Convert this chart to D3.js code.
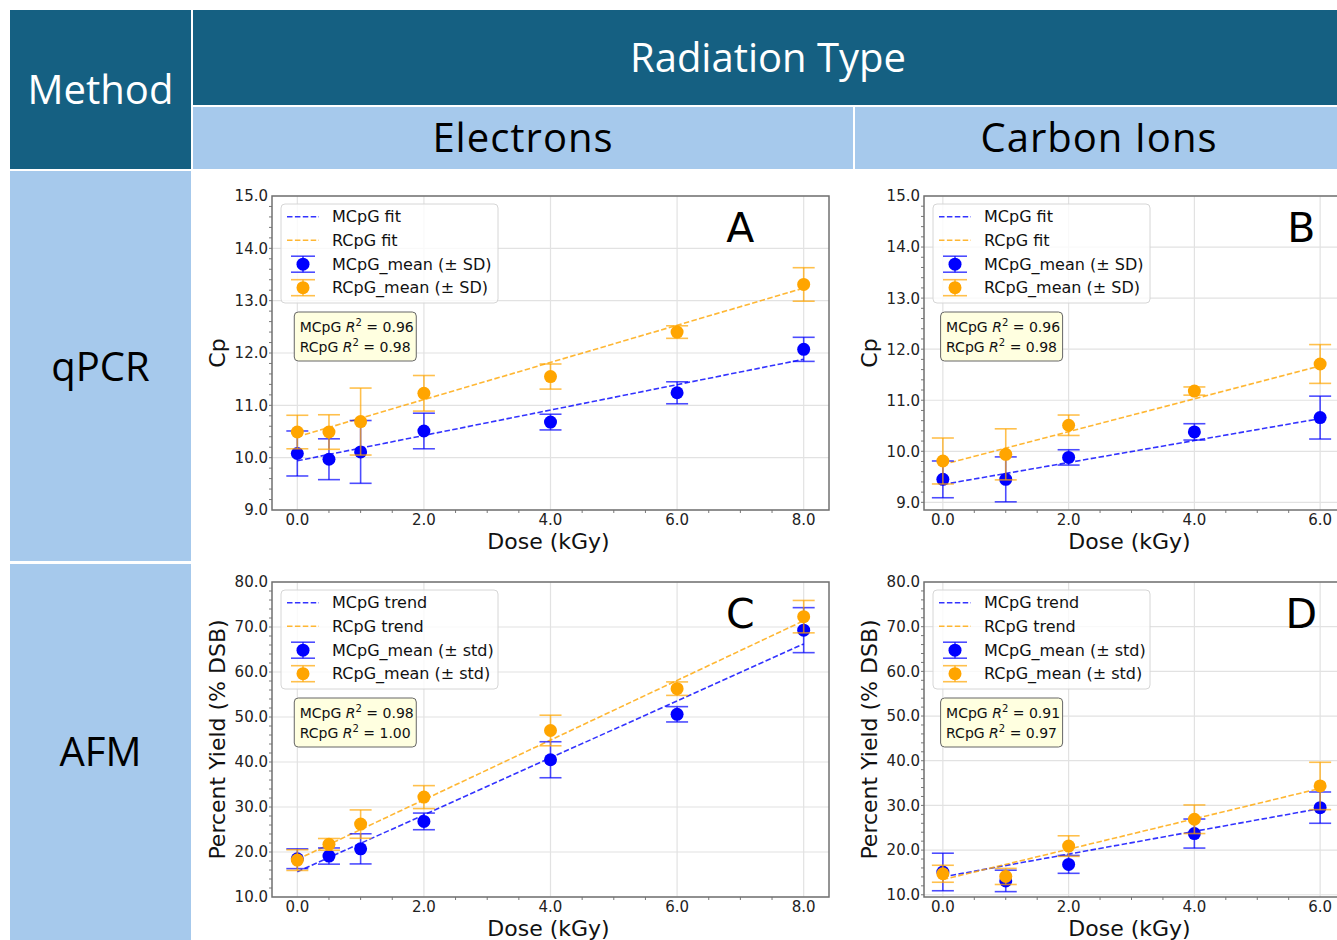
<!DOCTYPE html>
<html lang="en">
<head>
  <meta charset="UTF-8">
  <title>Radiation Type vs Method</title>
  <script src="https://d3js.org/d3.v7.min.js"></script>
  <style>
    body { margin: 0; background: #fff; }
    svg text { font-family: "DejaVu Sans", sans-serif; }
    .hdr { font-family: "Open Sans", sans-serif !important; font-size: 40px; }
  </style>
</head>
<body>
  <div id="chart"></div>
  <script>
    // dose levels (kGy)
    const electronDose = [0, 0.5, 1, 2, 4, 6, 8];
    const carbonDose = [0, 1, 2, 4, 6];

    // qPCR Cp, mean and SD
    const cpElecM = [10.08, 9.97, 10.11, 10.51, 10.68, 11.24, 12.07];
    const cpElecMsd = [0.43, 0.39, 0.60, 0.34, 0.15, 0.21, 0.23];
    const cpElecR = [10.49, 10.49, 10.69, 11.23, 11.55, 12.40, 13.31];
    const cpElecRsd = [0.32, 0.33, 0.64, 0.34, 0.24, 0.12, 0.32];
    const cpCarbM = [9.45, 9.45, 9.88, 10.38, 10.66];
    const cpCarbMsd = [0.36, 0.44, 0.15, 0.16, 0.42];
    const cpCarbR = [9.81, 9.94, 10.51, 11.18, 11.71];
    const cpCarbRsd = [0.45, 0.50, 0.20, 0.08, 0.38];

    // AFM percent yield, mean and std
    const afmElecM = [18.5, 19.1, 20.7, 26.8, 40.5, 50.6, 69.3];
    const afmElecMsd = [2.2, 1.8, 3.35, 1.85, 4.0, 1.7, 5.0];
    const afmElecR = [18.2, 21.7, 26.2, 32.2, 47.0, 56.3, 72.3];
    const afmElecRsd = [2.3, 1.3, 3.15, 2.55, 3.4, 1.5, 3.6];
    const afmCarbM = [15.1, 13.1, 16.8, 23.7, 29.5];
    const afmCarbMsd = [4.2, 2.4, 2.0, 3.25, 3.5];
    const afmCarbR = [14.7, 14.1, 20.9, 26.9, 34.35];
    const afmCarbRsd = [1.9, 1.8, 2.3, 3.2, 5.3];

    // linear fits [intercept, slope] for MCpG and RCpG
    const cpElecFit = [[9.94, 0.2425], [10.40, 0.355]];
    const cpCarbFit = [[9.35, 0.215], [9.74, 0.322]];
    const afmElecFit = [[15.6, 6.33], [18.35, 6.63]];
    const afmCarbFit = [[14.0, 2.55], [13.4, 3.4]];

    const r2Labels = [["0.96", "0.98"], ["0.96", "0.98"], ["0.98", "1.00"], ["0.91", "0.97"]];
    const elecTicks = [0, 2, 4, 6, 8];
    const carbTicks = [0, 2, 4, 6];
    const cpTicks = [9, 10, 11, 12, 13, 14, 15];
    const afmTicks = [10, 20, 30, 40, 50, 60, 70, 80];

    const dark = "#156082", light = "#a6c9ec";
    const blue = "#0000ff", orange = "#ffa500";

    const svg = d3.select("#chart").append("svg")
      .attr("width", 1337)
      .attr("height", 940);

    // table header / row cells
    const cells = [
      { x: 10, y: 10, w: 181, h: 159, fill: dark, text: "Method", color: "#fff", ty: 90 },
      { x: 193, y: 10, w: 1144, h: 95, fill: dark, text: "Radiation Type", color: "#fff", ty: 58, tx: 768 },
      { x: 193, y: 107, w: 660, h: 62, fill: light, text: "Electrons", color: "#000", ty: 138, ls: 1 },
      { x: 855, y: 107, w: 482, h: 62, fill: light, text: "Carbon Ions", color: "#000", ty: 138, tx: 1099, ls: 1 },
      { x: 10, y: 171, w: 181, h: 390, fill: light, text: "qPCR", color: "#000", ty: 367 },
      { x: 10, y: 564, w: 181, h: 376, fill: light, text: "AFM", color: "#000", ty: 752 }
    ];
    cells.forEach(c => {
      svg.append("rect").attr("x", c.x).attr("y", c.y)
        .attr("width", c.w).attr("height", c.h).attr("fill", c.fill);
      svg.append("text").attr("class", "hdr")
        .attr("x", c.tx || c.x + c.w / 2).attr("y", c.ty)
        .attr("text-anchor", "middle").attr("dy", "0.35em")
        .attr("letter-spacing", c.ls || 0)
        .attr("fill", c.color).text(c.text);
    });

    const panels = [
      { letter: "A", letterX: 7, left: 272, right: 829, top: 196, bottom: 510, xDom: [-0.4, 8.4], yDom: [9, 15],
        dose: electronDose, m: cpElecM, msd: cpElecMsd, r: cpElecR, rsd: cpElecRsd, fit: cpElecFit,
        xTicks: elecTicks, yTicks: cpTicks, yMinor: 0.2, yLabel: "Cp", fitWord: "fit", sdWord: "SD", r2: r2Labels[0] },
      { letter: "B", letterX: 5.7, left: 924, right: 1339, top: 196, bottom: 510, xDom: [-0.3, 6.3], yDom: [8.85, 15],
        dose: carbonDose, m: cpCarbM, msd: cpCarbMsd, r: cpCarbR, rsd: cpCarbRsd, fit: cpCarbFit,
        xTicks: carbTicks, yTicks: cpTicks, yMinor: 0.2, yLabel: "Cp", fitWord: "fit", sdWord: "SD", r2: r2Labels[1] },
      { letter: "C", letterX: 7, left: 272, right: 829, top: 582, bottom: 897, xDom: [-0.4, 8.4], yDom: [10, 80],
        dose: electronDose, m: afmElecM, msd: afmElecMsd, r: afmElecR, rsd: afmElecRsd, fit: afmElecFit,
        xTicks: elecTicks, yTicks: afmTicks, yMinor: 2, yLabel: "Percent Yield (% DSB)", fitWord: "trend", sdWord: "std", r2: r2Labels[2] },
      { letter: "D", letterX: 5.7, left: 924, right: 1339, top: 582, bottom: 897, xDom: [-0.3, 6.3], yDom: [9.5, 80],
        dose: carbonDose, m: afmCarbM, msd: afmCarbMsd, r: afmCarbR, rsd: afmCarbRsd, fit: afmCarbFit,
        xTicks: carbTicks, yTicks: afmTicks, yMinor: 2, yLabel: "Percent Yield (% DSB)", fitWord: "trend", sdWord: "std", r2: r2Labels[3] }
    ];

    panels.forEach(p => {
      const x = d3.scaleLinear().domain(p.xDom).range([p.left, p.right]);
      const y = d3.scaleLinear().domain(p.yDom).range([p.bottom, p.top]);
      const g = svg.append("g");
      const w = p.right - p.left;

      g.append("rect").attr("x", p.left).attr("y", p.top)
        .attr("width", w).attr("height", p.bottom - p.top).attr("fill", "#fff");

      // grid
      g.selectAll(".gx").data(p.xTicks).enter().append("line")
        .attr("x1", d => x(d)).attr("x2", d => x(d))
        .attr("y1", p.top).attr("y2", p.bottom)
        .attr("stroke", "#e2e2e2").attr("stroke-width", 1.2);
      g.selectAll(".gy").data(p.yTicks).enter().append("line")
        .attr("x1", p.left).attr("x2", p.right)
        .attr("y1", d => y(d)).attr("y2", d => y(d))
        .attr("stroke", "#e2e2e2").attr("stroke-width", 1.2);

      // minor ticks
      const xMin = d3.range(Math.ceil(p.xDom[0] * 2) / 2, p.xDom[1], 0.5).filter(v => v % 2 !== 0);
      g.selectAll(".mx").data(xMin).enter().append("line")
        .attr("x1", d => x(d)).attr("x2", d => x(d))
        .attr("y1", p.bottom).attr("y2", p.bottom + 3)
        .attr("stroke", "#555").attr("stroke-width", 0.8);
      const yMin = d3.range(p.yTicks[0], p.yDom[1], p.yMinor).filter(v => v > p.yDom[0]);
      g.selectAll(".my").data(yMin).enter().append("line")
        .attr("x1", p.left - 3).attr("x2", p.left)
        .attr("y1", d => y(d)).attr("y2", d => y(d))
        .attr("stroke", "#555").attr("stroke-width", 0.8);

      // tick labels
      g.selectAll(".tx").data(p.xTicks).enter().append("text")
        .attr("x", d => x(d)).attr("y", p.bottom + 15)
        .attr("text-anchor", "middle").attr("font-size", 15).attr("fill", "#222")
        .text(d3.format(".1f"));
      g.selectAll(".ty").data(p.yTicks).enter().append("text")
        .attr("x", p.left - 4).attr("y", d => y(d)).attr("dy", "0.36em")
        .attr("text-anchor", "end").attr("font-size", 15).attr("fill", "#222")
        .text(d3.format(".1f"));

      // axis labels
      g.append("text")
        .attr("x", p.left + w / 2 - 2)
        .attr("y", p.bottom + 39).attr("text-anchor", "middle")
        .attr("font-size", 22).attr("fill", "#111").text("Dose (kGy)");
      g.append("text")
        .attr("transform", `translate(${p.left - 55},${(p.top + p.bottom) / 2}) rotate(-90)`)
        .attr("text-anchor", "middle").attr("dy", "0.35em")
        .attr("font-size", 22).attr("fill", "#111").text(p.yLabel);

      // fits
      p.fit.forEach((f, i) => {
        const xs = [p.dose[0], p.dose[p.dose.length - 1]];
        g.append("line")
          .attr("x1", x(xs[0])).attr("y1", y(f[0] + f[1] * xs[0]))
          .attr("x2", x(xs[1])).attr("y2", y(f[0] + f[1] * xs[1]))
          .attr("stroke", i === 0 ? blue : orange).attr("stroke-opacity", 0.8)
          .attr("stroke-width", 1.6).attr("stroke-dasharray", "5.5,2.4");
      });

      // error bars + means
      const series = [
        { mean: p.m, sd: p.msd, color: blue },
        { mean: p.r, sd: p.rsd, color: orange }
      ];
      series.forEach(s => {
        const pts = p.dose.map((d, i) => ({ d, v: s.mean[i], e: s.sd[i] }));
        const eg = g.append("g").attr("stroke", s.color).attr("stroke-opacity", 0.7).attr("stroke-width", 1.6);
        pts.forEach(pt => {
          eg.append("line").attr("x1", x(pt.d)).attr("x2", x(pt.d))
            .attr("y1", y(pt.v - pt.e)).attr("y2", y(pt.v + pt.e));
          [pt.v - pt.e, pt.v + pt.e].forEach(c => {
            eg.append("line").attr("x1", x(pt.d) - 11).attr("x2", x(pt.d) + 11)
              .attr("y1", y(c)).attr("y2", y(c));
          });
        });
        g.selectAll(null).data(pts).enter().append("circle")
          .attr("cx", d => x(d.d)).attr("cy", d => y(d.v))
          .attr("r", 6.5).attr("fill", s.color);
      });

      // spines
      g.append("rect").attr("x", p.left).attr("y", p.top)
        .attr("width", w).attr("height", p.bottom - p.top)
        .attr("fill", "none").attr("stroke", "#707070").attr("stroke-width", 1.5);

      // panel letter
      g.append("text").attr("x", x(p.letterX)).attr("y", p.top + 31).attr("dy", "0.36em")
        .attr("text-anchor", "middle").attr("font-size", 41).attr("fill", "#000").text(p.letter);

      // legend
      const lx = p.left + 9, ly = p.top + 8;
      g.append("rect").attr("x", lx).attr("y", ly).attr("width", 217).attr("height", 99)
        .attr("rx", 4).attr("fill", "#fff").attr("fill-opacity", 0.8)
        .attr("stroke", "#d6d6d6").attr("stroke-width", 1);
      const rows = [
        { type: "line", color: blue, label: `MCpG ${p.fitWord}` },
        { type: "line", color: orange, label: `RCpG ${p.fitWord}` },
        { type: "err", color: blue, label: `MCpG_mean (± ${p.sdWord})` },
        { type: "err", color: orange, label: `RCpG_mean (± ${p.sdWord})` }
      ];
      rows.forEach((row, i) => {
        const cy = ly + 12.7 + i * 23.5 + (i >= 2 ? 0.5 : 0);
        if (row.type === "line") {
          g.append("line").attr("x1", lx + 6).attr("x2", lx + 38)
            .attr("y1", cy).attr("y2", cy)
            .attr("stroke", row.color).attr("stroke-opacity", 0.8)
            .attr("stroke-width", 1.6).attr("stroke-dasharray", "5.5,2.4");
        } else {
          const hx = lx + 22;
          const hg = g.append("g").attr("stroke", row.color).attr("stroke-opacity", 0.7).attr("stroke-width", 1.6);
          hg.append("line").attr("x1", hx).attr("x2", hx).attr("y1", cy - 8).attr("y2", cy + 8);
          [cy - 8, cy + 8].forEach(c => hg.append("line").attr("x1", hx - 12).attr("x2", hx + 12).attr("y1", c).attr("y2", c));
          g.append("circle").attr("cx", hx).attr("cy", cy).attr("r", 6.5).attr("fill", row.color);
        }
        g.append("text").attr("x", lx + 51).attr("y", cy).attr("dy", "0.36em")
          .attr("font-size", 16).attr("fill", "#111").text(row.label);
      });

      // R² box
      const bx = p.left + 0.04 * w, by = p.top + 116;
      g.append("rect").attr("x", bx).attr("y", by).attr("width", 122).attr("height", 49)
        .attr("rx", 4).attr("fill", "#ffffe0").attr("stroke", "#666").attr("stroke-width", 1);
      ["MCpG", "RCpG"].forEach((name, i) => {
        const t = g.append("text").attr("x", bx + 5.5).attr("y", by + 14.5 + i * 20).attr("dy", "0.36em")
          .attr("font-size", 14).attr("fill", "#111");
        t.append("tspan").text(name + " ");
        t.append("tspan").attr("font-style", "italic").text("R");
        t.append("tspan").attr("font-size", 10).attr("dy", "-0.55em").text("2");
        t.append("tspan").attr("dy", "0.4em").text(" = " + p.r2[i]);
      });
    });
  </script>
</body>
</html>
